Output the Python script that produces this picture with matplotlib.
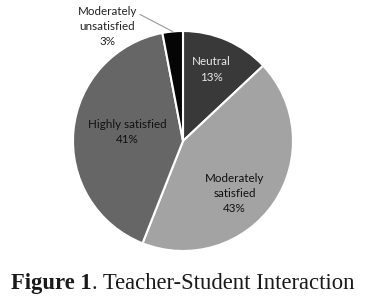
import numpy as np
import matplotlib
matplotlib.use("Agg")
import matplotlib.pyplot as plt

categories = ["Neutral", "Moderately\nsatisfied", "Highly satisfied", "Moderately\nunsatisfied"]
values = [13, 43, 41, 3]
colors = ["#393939", "#a3a3a3", "#666666", "#050505"]
text_colors = ["#e8e8e8", "#111111", "#111111", "#222222"]
title_bold = "Figure 1"
title_rest = ". Teacher-Student Interaction"

W, H = 366, 304
fig = plt.figure(figsize=(W / 100, H / 100), dpi=100)
cx, cy, R = 183, 141, 110
ax = fig.add_axes([(cx - R) / W, (H - cy - R) / H, 2 * R / W, 2 * R / H])
wedges, _ = ax.pie(values, colors=colors, startangle=90, counterclock=False,
                   radius=1.0, wedgeprops=dict(edgecolor="white", linewidth=1.5))
ax.set_xlim(-1, 1)
ax.set_ylim(-1, 1)
ax.set_aspect("equal")
ax.axis("off")

lab_font = dict(family=["Lato", "DejaVu Sans"], fontsize=8.4, ha="center", va="center",
                linespacing=1.45)
# label positions (x, y) in pie-radius units
label_pos = [(0.26, 0.65), (0.47, -0.48), (-0.51, 0.08), (-0.69, 1.04)]
for i, (cat, v) in enumerate(zip(categories, values)):
    x, y = label_pos[i]
    ax.text(x, y, f"{cat}\n{v}%", color=text_colors[i], clip_on=False, **lab_font)

# leader line for the small slice
w = wedges[3]
mid = np.deg2rad((w.theta1 + w.theta2) / 2)
ax.plot([-0.39, np.cos(mid)], [1.15, np.sin(mid)], color="#999999", lw=0.8,
        clip_on=False)

fs = 16.3
ybase = 1 - 289 / H
t1 = fig.text(0, ybase, title_bold, family="Liberation Serif", fontsize=fs,
              fontweight="bold", color="#1a1a1a", ha="left", va="baseline")
t2 = fig.text(0, ybase, title_rest, family="Liberation Serif", fontsize=fs,
              color="#1a1a1a", ha="left", va="baseline")
r = fig.canvas.get_renderer()
w1 = t1.get_window_extent(r).width
w2 = t2.get_window_extent(r).width
x0 = (W - (w1 + w2)) / 2
t1.set_x(x0 / W)
t2.set_x((x0 + w1) / W)

fig.savefig("out.png", dpi=100, facecolor="white")
